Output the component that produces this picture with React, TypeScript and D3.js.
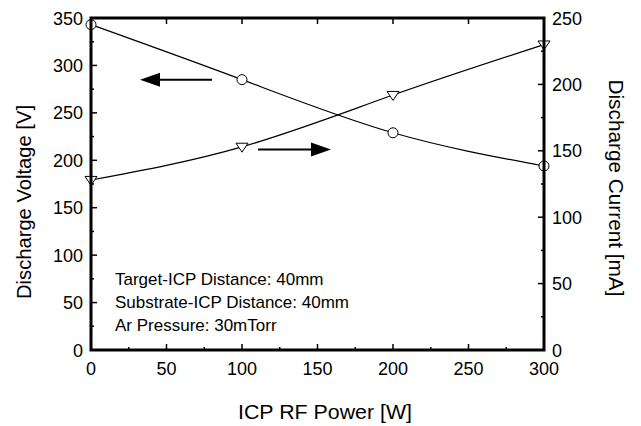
import React from 'react'
import * as d3 from 'd3'

// ICP RF power [W]
const power = [0, 100, 200, 300]
// discharge voltage [V] (left axis, circles)
const voltage = [343, 285, 229, 194]
// discharge current [mA] (right axis, triangles)
const current = [128, 153, 192, 230]

const xTicks = [0, 50, 100, 150, 200, 250, 300]
const leftTicks = [0, 50, 100, 150, 200, 250, 300, 350]
const rightTicks = [0, 50, 100, 150, 200, 250]

const notes = [
  'Target-ICP Distance: 40mm',
  'Substrate-ICP Distance: 40mm',
  'Ar Pressure: 30mTorr',
]

const W = 641
const H = 426
const m = { left: 91, right: 97, top: 18, bottom: 76 }
const font = 'Liberation Sans, Arial, sans-serif'

const App: React.FC = () => {
  const x = d3.scaleLinear().domain([0, 300]).range([m.left, W - m.right])
  const yL = d3.scaleLinear().domain([0, 350]).range([H - m.bottom, m.top])
  const yR = d3.scaleLinear().domain([0, 250]).range([H - m.bottom, m.top])

  const lineL = d3
    .line<number>()
    .x((_, i) => x(power[i]))
    .y((d) => yL(d))
    .curve(d3.curveNatural)
  const lineR = d3
    .line<number>()
    .x((_, i) => x(power[i]))
    .y((d) => yR(d))
    .curve(d3.curveNatural)

  const x0 = x(0)
  const x1 = x(300)
  const y0 = yL(0)
  const y1 = yL(350)

  const minorX = d3.range(25, 300, 50)
  const minorL = d3.range(25, 350, 50)
  const minorR = d3.range(25, 250, 50)

  const tri = (cx: number, cy: number, r = 6) =>
    `M${cx - r},${cy - r * 0.6}L${cx + r},${cy - r * 0.6}L${cx},${cy + r * 0.9}Z`

  return (
    <svg width={W} height={H} style={{ position: 'absolute', left: 0, top: 0 }} fontFamily={font}>
      <rect width={W} height={H} fill="white" />
      {/* curves */}
      <path d={lineL(voltage) ?? ''} fill="none" stroke="black" strokeWidth={1.2} />
      <path d={lineR(current) ?? ''} fill="none" stroke="black" strokeWidth={1.2} />
      {voltage.map((v, i) => (
        <circle key={'c' + i} cx={x(power[i])} cy={yL(v)} r={5} fill="white" stroke="black" strokeWidth={1} />
      ))}
      {current.map((c, i) => (
        <path key={'t' + i} d={tri(x(power[i]), yR(c))} fill="white" stroke="black" strokeWidth={1} />
      ))}

      {/* ticks */}
      {xTicks.map((t) => (
        <g key={'xt' + t}>
          <line x1={x(t)} x2={x(t)} y1={y0} y2={y0 - 6} stroke="black" strokeWidth={1.5} />
          <line x1={x(t)} x2={x(t)} y1={y1} y2={y1 + 6} stroke="black" strokeWidth={1.5} />
          <text x={x(t)} y={y0 + 25} textAnchor="middle" fontSize={18}>{t}</text>
        </g>
      ))}
      {minorX.map((t) => (
        <line key={'xm' + t} x1={x(t)} x2={x(t)} y1={y0} y2={y0 - 3} stroke="black" strokeWidth={1.5} />
      ))}
      {leftTicks.map((t) => (
        <g key={'lt' + t}>
          <line x1={x0} x2={x0 + 6} y1={yL(t)} y2={yL(t)} stroke="black" strokeWidth={1.5} />
          <text x={x0 - 8} y={yL(t) + 6.5} textAnchor="end" fontSize={18}>{t}</text>
        </g>
      ))}
      {minorL.map((t) => (
        <line key={'lm' + t} x1={x0} x2={x0 + 3} y1={yL(t)} y2={yL(t)} stroke="black" strokeWidth={1.5} />
      ))}
      {rightTicks.map((t) => (
        <g key={'rt' + t}>
          <line x1={x1} x2={x1 - 6} y1={yR(t)} y2={yR(t)} stroke="black" strokeWidth={1.5} />
          <text x={x1 + 8} y={yR(t) + 6.5} textAnchor="start" fontSize={18}>{t}</text>
        </g>
      ))}
      {minorR.map((t) => (
        <line key={'rm' + t} x1={x1} x2={x1 - 3} y1={yR(t)} y2={yR(t)} stroke="black" strokeWidth={1.5} />
      ))}

      {/* frame */}
      <rect x={x0} y={y1} width={x1 - x0} height={y0 - y1} fill="none" stroke="black" strokeWidth={3} />

      {/* arrows */}
      <line x1={212} y1={yL(285)} x2={155} y2={yL(285)} stroke="black" strokeWidth={2} />
      <path d={`M140,${yL(285)}L160,${yL(285) - 7}L160,${yL(285) + 7}Z`} fill="black" />
      <line x1={258} y1={yR(151)} x2={316} y2={yR(151)} stroke="black" strokeWidth={2} />
      <path d={`M331,${yR(151)}L311,${yR(151) - 7}L311,${yR(151) + 7}Z`} fill="black" />

      {/* notes */}
      {notes.map((n, i) => (
        <text key={n} x={115} y={285 + i * 23} fontSize={17}>{n}</text>
      ))}

      {/* titles */}
      <text x={325} y={419} textAnchor="middle" fontSize={20} textLength={174} lengthAdjust="spacingAndGlyphs">
        ICP RF Power [W]
      </text>
      <text transform={`translate(31,202) rotate(-90)`} textAnchor="middle" fontSize={20} textLength={194} lengthAdjust="spacingAndGlyphs">
        Discharge Voltage [V]
      </text>
      <text transform={`translate(609,188) rotate(90)`} textAnchor="middle" fontSize={20} textLength={217} lengthAdjust="spacingAndGlyphs">
        Discharge Current [mA]
      </text>
    </svg>
  )
}

export default App
